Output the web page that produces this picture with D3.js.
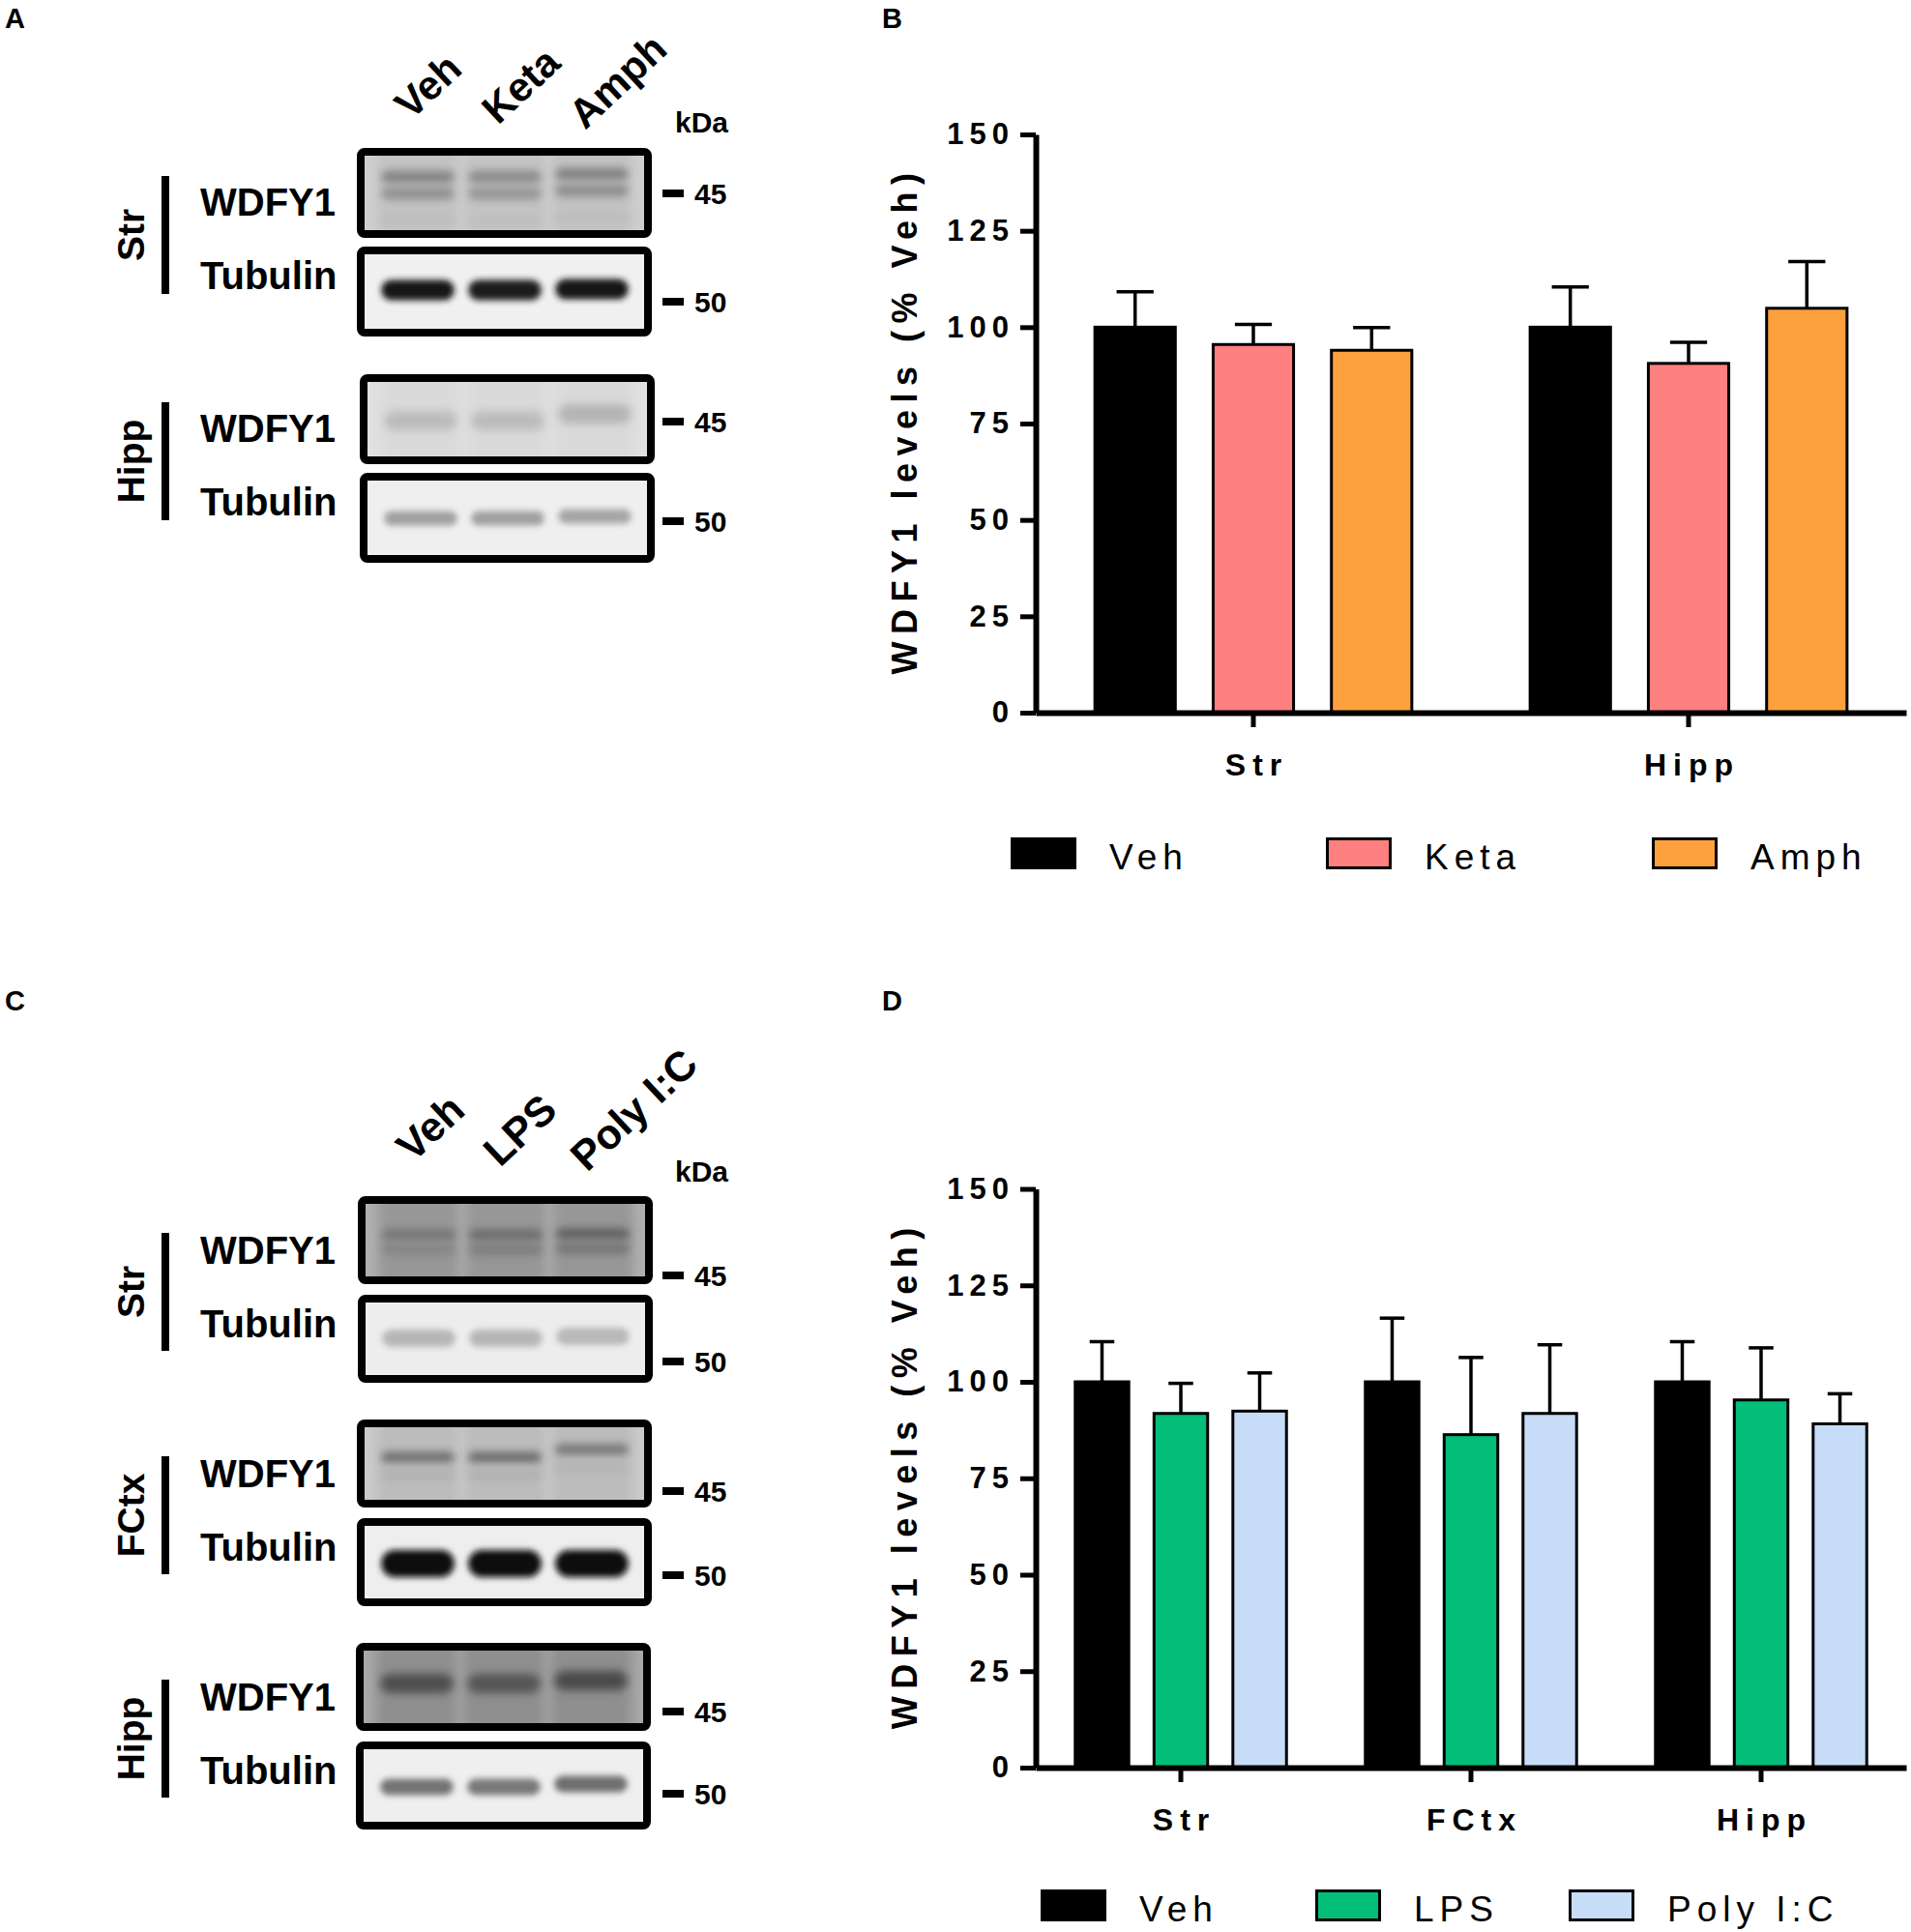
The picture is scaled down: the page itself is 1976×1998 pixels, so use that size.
<!DOCTYPE html>
<html>
<head>
<meta charset="utf-8">
<script src="https://cdn.jsdelivr.net/npm/d3@7"></script>
<style>
  body { margin: 0; background: #fff; }
  svg { display: block; }
  text { font-family: "Liberation Sans", Arial, Helvetica, sans-serif; fill: #000; }
</style>
</head>
<body>
<div id="figure"></div>
<script>
// ---------- data ----------
const tickValues = [0, 25, 50, 75, 100, 125, 150];

// panel B : psychostimulants
const regionsB = ['Str', 'Hipp'];
const treatmentsB = ['Veh', 'Keta', 'Amph'];
const meansB = [[100, 95.5, 94.0], [100, 90.6, 104.9]];
const semsB = [[9.2, 5.2, 5.9], [10.4, 5.5, 12.1]];
const colorsB = ['#000000', '#ff8080', '#ffa03f'];

// panel D : immune challenge
const regionsD = ['Str', 'FCtx', 'Hipp'];
const treatmentsD = ['Veh', 'LPS', 'Poly I:C'];
const meansD = [[100, 91.8, 92.4], [100, 86.3, 91.8], [100, 95.3, 89.1]];
const semsD = [[10.4, 7.8, 9.9], [16.5, 20.0, 17.8], [10.4, 13.5, 7.8]];
const colorsD = ['#000000', '#03be78', '#c7dcf7'];

// western blots (A and C)
const blotProteins = ['WDFY1', 'Tubulin'];
const markerKDa = [45, 50];
const blotRegionsA = ['Str', 'Hipp'];
const blotRegionsC = ['Str', 'FCtx', 'Hipp'];
// band density per region -> protein -> lane
const densityA = [
  [[0.36, 0.33, 0.37], [0.90, 0.88, 0.90]],
  [[0.17, 0.17, 0.20], [0.33, 0.33, 0.31]]
];
const densityC = [
  [[0.34, 0.40, 0.46], [0.23, 0.23, 0.22]],
  [[0.46, 0.48, 0.42], [0.97, 0.97, 0.97]],
  [[0.54, 0.50, 0.56], [0.52, 0.50, 0.54]]
];

// ---------- look of the blot images (style only) ----------
const looksA = [
  [{ bg: '#cfcfcf', tint: 0.06, bands: [{ dy: 30, h: 13, k: 1 }, { dy: 47, h: 13, k: 0.85 }, { dy: 74, h: 8, k: 0.25 }], lift: [0, 0, -3], blur: 4 },
   { bg: '#f0f0f0', tint: 0.0, bands: [{ dy: 45, h: 21, k: 1 }], lift: [0, 0, -1], blur: 3 }],
  [{ bg: '#e1e1e1', tint: 0.03, bands: [{ dy: 48, h: 20, k: 1 }], lift: [0, 0, -7], blur: 5 },
   { bg: '#efefef', tint: 0.0, bands: [{ dy: 47, h: 15, k: 1 }], lift: [0, 0, -2], blur: 3 }]
];
const looksC = [
  [{ bg: '#b0b0b0', tint: 0.14, bands: [{ dy: 40, h: 11, k: 1 }, { dy: 55, h: 13, k: 0.7 }], lift: [0, 0, -1], blur: 4 },
   { bg: '#ededed', tint: 0.0, bands: [{ dy: 45, h: 18, k: 1 }], lift: [0, 0, -2], blur: 3 }],
  [{ bg: '#cacaca', tint: 0.07, bands: [{ dy: 39, h: 11, k: 1 }, { dy: 57, h: 14, k: 0.25 }], lift: [0, 0, -8], blur: 4 },
   { bg: '#eeeeee', tint: 0.0, bands: [{ dy: 47, h: 28, k: 1 }], lift: [0, 0, 0], blur: 3 }],
  [{ bg: '#a8a8a8', tint: 0.15, bands: [{ dy: 42, h: 20, k: 1 }], lift: [0, 0, -3], blur: 5 },
   { bg: '#efefef', tint: 0.0, bands: [{ dy: 47, h: 17, k: 1 }], lift: [0, 0, -3], blur: 3 }]
];

const W = 1976, H = 1998;
const svg = d3.select('#figure').append('svg').attr('width', W).attr('height', H);

const defs = svg.append('defs');
[3, 4, 5, 6].forEach(s => {
  defs.append('filter')
    .attr('id', 'blur' + s)
    .attr('x', '-30%').attr('y', '-80%').attr('width', '160%').attr('height', '260%')
    .append('feGaussianBlur').attr('stdDeviation', s);
});
const blurId = s => `url(#blur${s})`;

// panel letters
[['A', 5, 29], ['B', 912, 29], ['C', 5, 1045], ['D', 912, 1045]].forEach(([t, x, y]) => {
  svg.append('text').attr('x', x).attr('y', y)
    .style('font-size', '29px').style('font-weight', 'bold').text(t);
});

// ---------- western blot panel ----------
let clipCount = 0;
function drawBlot(cfg) {
  const { lanes, regions, density, looks, tops, boxX, boxH, rowPitch, barTop,
          labelShift, labelSize, angle, kdaY, markerDy } = cfg;
  const g = svg.append('g');

  regions.forEach((region, gi) => {
    const top = tops[gi];
    const bx = boxX[gi];
    const lane = d3.scaleBand().domain(lanes).range([bx + 9, bx + 297])
      .paddingInner(0.16).paddingOuter(0.18);

    // lane labels above the first group
    if (gi === 0) {
      lanes.forEach((l, i) => {
        const cx = lane(l) + lane.bandwidth() / 2 + labelShift[0];
        const cy = top + labelShift[1] + 5 * i;
        g.append('text')
          .attr('transform', `translate(${cx},${cy}) rotate(${angle})`)
          .style('font-size', labelSize + 'px').style('font-weight', 'bold')
          .text(l);
      });
      g.append('text').attr('x', 698).attr('y', kdaY)
        .style('font-size', '30px').style('font-weight', 'bold').text('kDa');
    }

    // region bar + label
    g.append('rect').attr('x', 167).attr('y', top + barTop).attr('width', 8).attr('height', 122).attr('fill', '#000');
    g.append('text')
      .attr('transform', `translate(149,${top + barTop + 61}) rotate(-90)`)
      .attr('text-anchor', 'middle')
      .style('font-size', '39px').style('font-weight', 'bold')
      .text(region);

    blotProteins.forEach((protein, pi) => {
      const y0 = top + pi * rowPitch;
      const look = looks[gi][pi];
      const bg = d3.color(look.bg);
      const shade = d => d3.interpolateRgb(bg, '#000')(d);
      const id = 'clip' + (clipCount++);

      defs.append('clipPath').attr('id', id)
        .append('rect').attr('x', bx + 4).attr('y', y0 + 4).attr('width', 297).attr('height', boxH - 8);

      const box = g.append('g');
      const inner = box.append('g').attr('clip-path', `url(#${id})`);
      inner.append('rect').attr('x', bx + 4).attr('y', y0 + 4).attr('width', 297).attr('height', boxH - 8)
        .attr('fill', look.bg);

      if (look.tint > 0) {
        inner.selectAll(null).data(lanes).join('rect')
          .attr('x', d => lane(d) - 4).attr('width', lane.bandwidth() + 8)
          .attr('y', y0 - 10).attr('height', boxH + 20)
          .attr('fill', shade(look.tint))
          .attr('filter', blurId(6));
      }

      look.bands.forEach(b => {
        inner.selectAll(null).data(lanes).join('rect')
          .attr('x', d => lane(d))
          .attr('width', lane.bandwidth())
          .attr('y', (d, i) => y0 + b.dy - b.h / 2 + look.lift[i])
          .attr('height', b.h)
          .attr('rx', b.h / 2)
          .attr('fill', (d, i) => shade(Math.min(1, density[gi][pi][i] * b.k)))
          .attr('filter', blurId(look.blur));
      });

      box.append('rect').attr('x', bx + 4).attr('y', y0 + 4).attr('width', 297).attr('height', boxH - 8)
        .attr('rx', 4).attr('fill', 'none').attr('stroke', '#000').attr('stroke-width', 8);

      // protein label
      g.append('text').attr('x', 207).attr('y', top + [56, 132][pi] + 14)
        .style('font-size', '40px').style('font-weight', 'bold')
        .text(protein);

      // molecular weight marker
      const my = y0 + markerDy[gi][pi];
      g.append('rect').attr('x', 685).attr('y', my - 4).attr('width', 22).attr('height', 8).attr('fill', '#000');
      g.append('text').attr('x', 718).attr('y', my).attr('dy', '0.36em')
        .style('font-size', '30px').style('font-weight', 'bold')
        .text(markerKDa[pi]);
    });
  });
}

drawBlot({
  lanes: treatmentsB, regions: blotRegionsA, density: densityA, looks: looksA,
  tops: [153, 387], boxX: [369, 372], boxH: 93, rowPitch: 102, barTop: 29,
  labelShift: [-7, -28], labelSize: 42, angle: -43, kdaY: 137,
  markerDy: [[47, 57], [49, 50]]
});

drawBlot({
  lanes: treatmentsD, regions: blotRegionsC, density: densityC, looks: looksC,
  tops: [1237, 1468, 1699], boxX: [370, 369, 368], boxH: 91, rowPitch: 102, barTop: 38,
  labelShift: [-6, -34], labelSize: 43, angle: -43, kdaY: 1222,
  markerDy: [[82, 69], [74, 59], [71, 54]]
});

// ---------- grouped bar chart ----------
function barChart(cfg) {
  const { regions, treatments, means, sems, colors, yTop, yBottom, legendX, legendY } = cfg;
  const g = svg.append('g');

  const x0 = d3.scaleBand().domain(regions).range([1071, 1971]);
  const x1 = d3.scaleBand().domain(treatments).range([0, x0.bandwidth()])
    .paddingInner(0.32).paddingOuter(0.5);
  const y = d3.scaleLinear().domain([0, 150]).range([yBottom, yTop]);
  const color = d3.scaleOrdinal().domain(treatments).range(colors);

  const rows = regions.flatMap((r, i) => treatments.map((t, j) => ({
    region: r, treatment: t, mean: means[i][j], sem: sems[i][j]
  })));

  // error bars (upper only)
  const capW = x1.bandwidth() * 0.46;
  const err = g.selectAll('g.err').data(rows).join('g').attr('class', 'err')
    .attr('transform', d => `translate(${x0(d.region) + x1(d.treatment) + x1.bandwidth() / 2},0)`);
  err.append('line')
    .attr('x1', 0).attr('x2', 0)
    .attr('y1', d => y(d.mean)).attr('y2', d => y(d.mean + d.sem))
    .attr('stroke', '#000').attr('stroke-width', 3.5);
  err.append('line')
    .attr('x1', -capW / 2).attr('x2', capW / 2)
    .attr('y1', d => y(d.mean + d.sem)).attr('y2', d => y(d.mean + d.sem))
    .attr('stroke', '#000').attr('stroke-width', 3.5);

  // bars
  g.selectAll('rect.bar').data(rows).join('rect').attr('class', 'bar')
    .attr('x', d => x0(d.region) + x1(d.treatment))
    .attr('width', x1.bandwidth())
    .attr('y', d => y(d.mean))
    .attr('height', d => y(0) - y(d.mean))
    .attr('fill', d => color(d.treatment))
    .attr('stroke', '#000').attr('stroke-width', 3);

  // y axis
  const yAxis = g.append('g').attr('transform', 'translate(1071,0)')
    .call(d3.axisLeft(y).tickValues(tickValues).tickSize(16).tickSizeOuter(0).tickPadding(6));
  yAxis.select('.domain').attr('stroke-width', 6);
  yAxis.selectAll('.tick line').attr('stroke-width', 5);
  yAxis.selectAll('.tick text')
    .style('font-family', '"Liberation Sans", Arial, sans-serif')
    .style('font-size', '31px').style('font-weight', 'bold')
    .style('letter-spacing', '6px').attr('fill', '#000');

  // x axis
  const xAxis = g.append('g').attr('transform', `translate(0,${yBottom})`)
    .call(d3.axisBottom(x0).tickSize(15).tickSizeOuter(0).tickPadding(27));
  xAxis.select('.domain').attr('stroke-width', 6);
  xAxis.selectAll('.tick line').attr('stroke-width', 5);
  xAxis.selectAll('.tick text')
    .style('font-family', '"Liberation Sans", Arial, sans-serif')
    .style('font-size', '32px').style('font-weight', 'bold')
    .style('letter-spacing', '7px').attr('dx', '3.5px').attr('fill', '#000');

  // y title
  g.append('text')
    .attr('transform', `translate(948,${(yTop + yBottom) / 2}) rotate(-90)`)
    .attr('text-anchor', 'middle').attr('dx', 3.5)
    .style('font-size', '36px').style('font-weight', 'bold').style('letter-spacing', '7.5px')
    .text('WDFY1 levels (% Veh)');

  // legend
  const leg = g.selectAll('g.leg').data(treatments).join('g').attr('class', 'leg')
    .attr('transform', (d, i) => `translate(${legendX[i]},${legendY})`);
  leg.append('rect').attr('x', 1.5).attr('y', 1.5).attr('width', 65).attr('height', 30)
    .attr('fill', d => color(d)).attr('stroke', '#000').attr('stroke-width', 3);
  leg.append('text').attr('x', 102).attr('y', 33)
    .style('font-size', '37px').style('letter-spacing', '6px')
    .text(d => d);
}

barChart({
  regions: regionsB, treatments: treatmentsB, means: meansB, sems: semsB, colors: colorsB,
  yTop: 139, yBottom: 737, legendX: [1045, 1371, 1708], legendY: 866
});

barChart({
  regions: regionsD, treatments: treatmentsD, means: meansD, sems: semsD, colors: colorsD,
  yTop: 1229.5, yBottom: 1828, legendX: [1076, 1360, 1622], legendY: 1954
});
</script>
</body>
</html>
